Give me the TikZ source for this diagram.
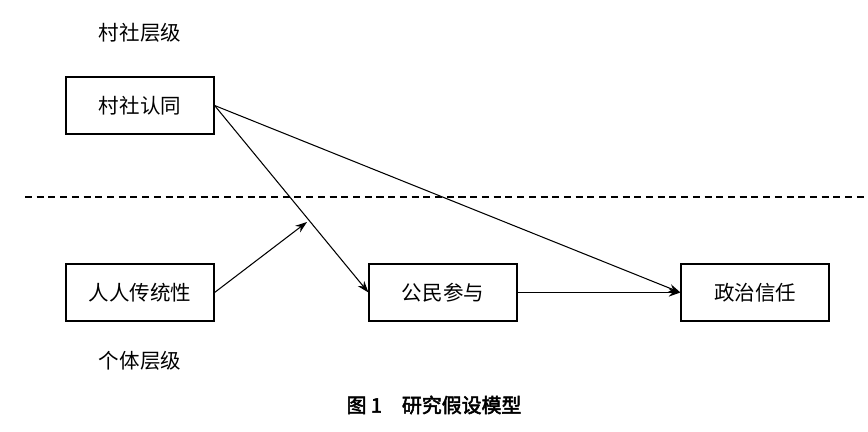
\documentclass[tikz,border=0pt]{standalone}
\usepackage{fontspec}
\newfontfamily\cjk[AutoFakeBold=2.5]{Noto Sans CJK SC}
\usetikzlibrary{arrows.meta}
\begin{document}
\begin{tikzpicture}[x=0.03cm,y=-0.03cm,
  box/.style={draw,line width=1pt,minimum width=148*0.03cm,minimum height=57*0.03cm,inner sep=0pt,font=\cjk\fontsize{17.5}{20}\selectfont},
  lbl/.style={font=\cjk\fontsize{17.5}{20}\selectfont},
  arr/.style={line width=0.9pt,-{Stealth[length=10pt,width=7pt]}}]
\useasboundingbox (0,0) rectangle (868,432);
\node[box] (a) at (140,105.5) {村社认同};
\node[box] (b) at (140,292.5) {人人传统性};
\node[box] (c) at (443,292.5) {公民参与};
\node[box] (d) at (755,292.5) {政治信任};
\node[lbl] (l1) at (140,33) {村社层级};
\node[lbl] (l2) at (140,361) {个体层级};
\node[font=\cjk\bfseries\fontsize{17}{20}\selectfont] (cap) at (434,405) {图 1\quad 研究假设模型};
\coordinate (dl) at (25,197);
\coordinate (dr) at (868,197);
\draw[line width=0.9pt,dash pattern=on 6pt off 4pt] (dl) -- (dr);
\coordinate (m) at (307,222);
\draw[arr] (a.east) -- (c.west);
\draw[arr] (a.east) -- (d.west);
\draw[arr] (c.east) -- (d.west);
\draw[arr] (b.east) -- (m);
\end{tikzpicture}
\end{document}
